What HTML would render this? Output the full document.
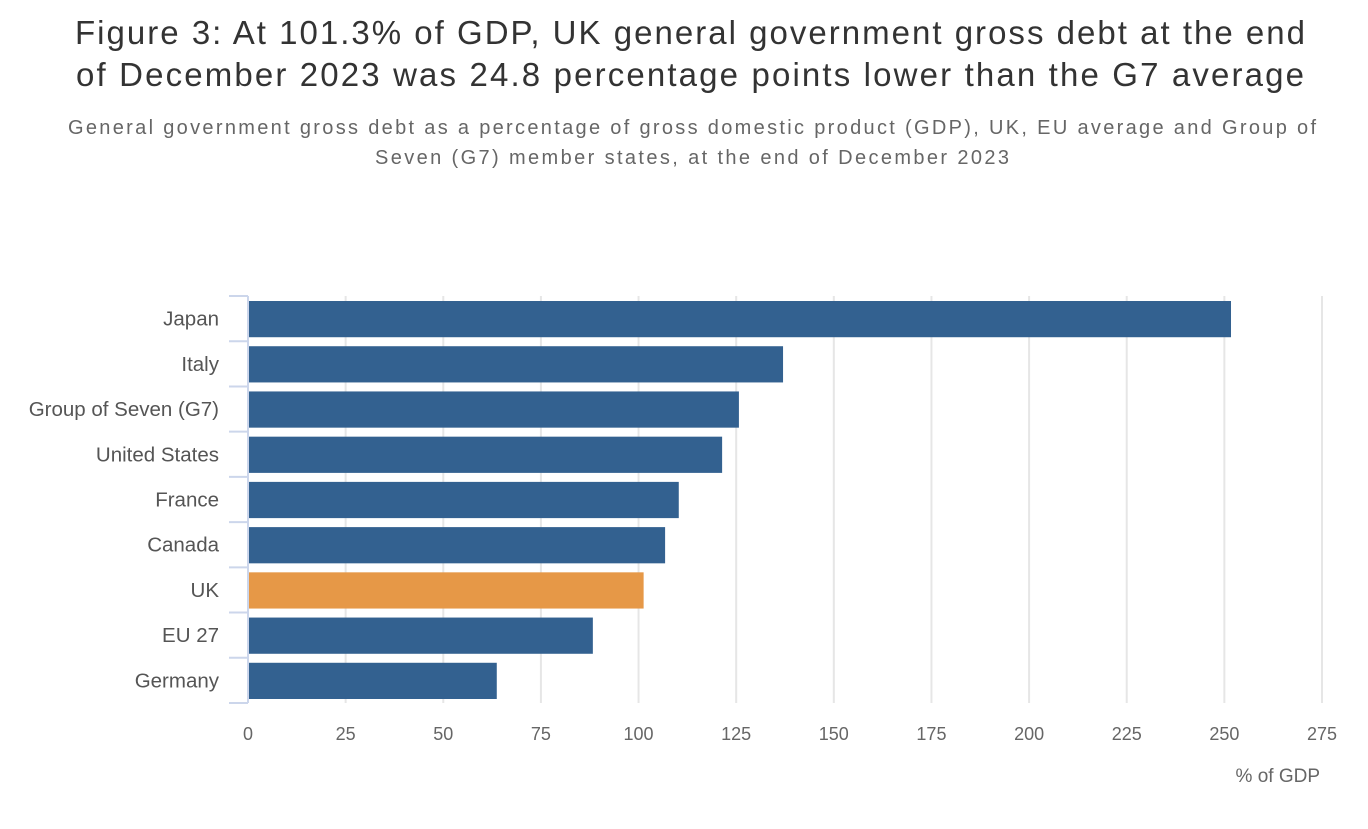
<!DOCTYPE html>
<html><head><meta charset="utf-8"><style>
body{margin:0;background:#fff;width:1368px;height:824px;overflow:hidden;font-family:"Liberation Sans",sans-serif}
</style></head><body>
<svg width="1368" height="824" font-family="Liberation Sans, sans-serif">
<text x="75" y="44" font-size="33" fill="#333" textLength="1230" lengthAdjust="spacing">Figure 3: At 101.3% of GDP, UK general government gross debt at the end</text>
<text x="76" y="86" font-size="33" fill="#333" textLength="1228" lengthAdjust="spacing">of December 2023 was 24.8 percentage points lower than the G7 average</text>
<text x="68" y="134" font-size="20" fill="#666" textLength="1248" lengthAdjust="spacing">General government gross debt as a percentage of gross domestic product (GDP), UK, EU average and Group of</text>
<text x="375" y="164" font-size="20" fill="#666" textLength="634" lengthAdjust="spacing">Seven (G7) member states, at the end of December 2023</text>
<g id="grid"></g><g id="bars"></g><g id="axes"></g>
<text x="1320" y="782" text-anchor="end" font-size="19" fill="#666">% of GDP</text>
</svg>
<script>
const categories=["Japan","Italy","Group of Seven (G7)","United States","France","Canada","UK","EU 27","Germany"];
const values=[251.7,137.0,125.7,121.4,110.3,106.8,101.3,88.3,63.7];
const highlight=["UK"];
const ticks=[0,25,50,75,100,125,150,175,200,225,250,275];
const ns="http://www.w3.org/2000/svg";
const x0=248,x1=1322,yTop=296,yBottom=703;
const band=(yBottom-yTop)/categories.length;
const xs=v=>x0+(v-0)/275*(x1-x0);
function mk(t,a,p){const e=document.createElementNS(ns,t);for(const k in a)e.setAttribute(k,a[k]);p.appendChild(e);return e;}
const grid=document.getElementById('grid'),bars=document.getElementById('bars'),axes=document.getElementById('axes');
ticks.forEach(t=>{
 if(t>0){const l=mk('line',{x1:xs(t),x2:xs(t),y1:yTop,y2:yBottom,stroke:'#e6e6e6','stroke-width':2},grid);
 
 }
 const tx=mk('text',{x:xs(t),y:740,'text-anchor':'middle','font-size':18,fill:'#666'},axes);tx.textContent=t;
 
 
});
const ax=mk('line',{x1:x0,x2:x0,y1:yTop,y2:yBottom,stroke:'#ccd6eb','stroke-width':2},axes);


for(let i=0;i<=categories.length;i++){const y=yTop+i*band;
 const tk=mk('line',{x1:229,x2:x0,y1:y,y2:y,stroke:'#ccd6eb','stroke-width':2},axes);
 
 }
categories.forEach((c,i)=>{
 const y=yTop+i*band;
 const r=mk('rect',{x:x0+1,y:y+5,width:xs(values[i])-x0-1,height:band-9,fill:highlight.includes(c)?'#e69847':'#336190'},bars);
 
 
 const t=mk('text',{x:219,y:y+band/2+7,'text-anchor':'end','font-size':20.5,fill:'#555'},axes);t.textContent=c;
 
 
});
</script>
</body></html>
